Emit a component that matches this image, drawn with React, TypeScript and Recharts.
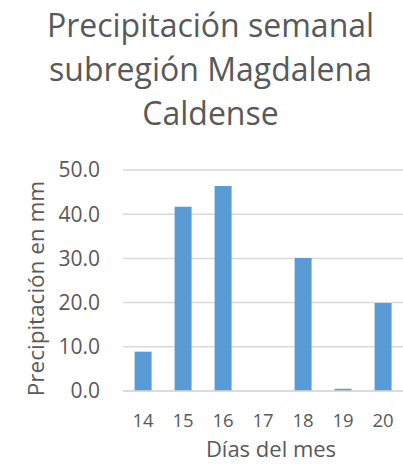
import { BarChart, Bar, XAxis, YAxis, CartesianGrid } from 'recharts';

const days = ['14', '15', '16', '17', '18', '19', '20'];
const rainfall = [8.9, 41.7, 46.4, 0, 30.1, 0.5, 19.9];
const yTicks = [0, 10, 20, 30, 40, 50];
const titleLines = ['Precipitación semanal', 'subregión Magdalena', 'Caldense'];

const data = days.map((d, i) => ({ day: d, mm: rainfall[i] }));

const TEXT = '#595959';
const FONT = '"Open Sans", sans-serif';

function YTitle({ viewBox }: any) {
  const x = viewBox.x + 35;
  const y = viewBox.y + viewBox.height / 2 + 8;
  return (
    <text
      x={x}
      y={y}
      transform={`rotate(-90 ${x} ${y})`}
      textAnchor="middle"
      dominantBaseline="central"
      fill={TEXT}
      fontSize={22.5}
      fontFamily={FONT}
    >
      Precipitación en mm
    </text>
  );
}

function XTitle({ viewBox }: any) {
  return (
    <text
      x={viewBox.x + viewBox.width / 2 + 8}
      y={viewBox.y + 66}
      textAnchor="middle"
      fill={TEXT}
      fontSize={22}
      fontFamily={FONT}
    >
      Días del mes
    </text>
  );
}

export default function App() {
  return (
    <div style={{ position: 'absolute', left: 0, top: 0, width: 403, height: 472, background: '#fff', fontFamily: FONT }}>
      <div
        style={{
          position: 'absolute',
          left: 9,
          top: 3,
          width: 403,
          textAlign: 'center',
          fontSize: 32,
          lineHeight: '44px',
          color: TEXT,
        }}
      >
        {titleLines.map((t) => (
          <div key={t}>{t}</div>
        ))}
      </div>
      <BarChart
        width={403}
        height={472}
        data={data}
        margin={{ top: 170, right: 0, bottom: 0, left: 0 }}
        barCategoryGap="29%"
      >
        <CartesianGrid vertical={false} stroke="#d9d9d9" strokeWidth={1.5} />
        <XAxis
          dataKey="day"
          height={81}
          axisLine={{ stroke: '#d9d9d9', strokeWidth: 1.5 }}
          tickLine={false}
          tickMargin={17}
          tick={{ fill: TEXT, fontSize: 18.5, fontFamily: FONT }}
          label={<XTitle />}
        />
        <YAxis
          width={123}
          domain={[0, 50]}
          ticks={yTicks}
          axisLine={false}
          tickLine={false}
          tickMargin={17}
          tickFormatter={(v: number) => v.toFixed(1)}
          tick={{ fill: TEXT, fontSize: 21, fontFamily: FONT }}
          label={<YTitle />}
        />
        <Bar dataKey="mm" fill="#5B9BD5" isAnimationActive={false} />
      </BarChart>
    </div>
  );
}
